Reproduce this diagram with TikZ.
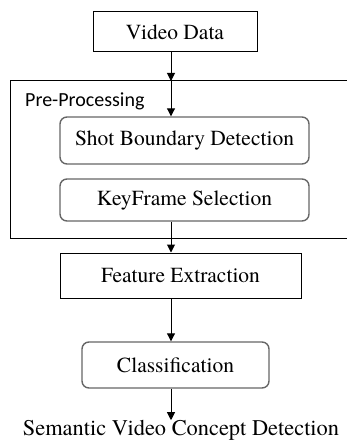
\documentclass[tikz,border=0pt]{standalone}
\usepackage{fontspec}
\setmainfont{TeX Gyre Termes}
\newfontfamily\calib{Carlito}
\usetikzlibrary{arrows.meta}
\begin{document}
\begin{tikzpicture}[x=1pt,y=-1pt,
  txt/.style={font=\fontsize{21.5}{24}\selectfont, inner sep=0pt},
  box/.style={txt, draw=black, line width=1pt},
  rbox/.style={txt, draw=black!60, line width=1.4pt, rounded corners=7pt},
  arr/.style={-{Triangle[length=8pt,width=8pt]}, line width=1pt}]
\useasboundingbox (0,0) rectangle (347,441);
\coordinate (ax) at (171,0);
% frame
\draw[line width=1pt] (349,81) -- (10,81) -- (10,238) -- (349,238);
\coordinate (ftop) at (171,81);
\node[anchor=west, inner sep=0pt, font=\calib\fontsize{20}{22}\selectfont] (pp) at (25,101) {Pre-Processing};
% nodes
\node[box, minimum width=164pt, minimum height=40pt] (vd) at (175,32) {Video Data};
\node[rbox, minimum width=249pt, minimum height=47pt] (sb) at (184.5,140.5) {Shot Boundary Detection};
\node[rbox, minimum width=249pt, minimum height=42pt] (kf) at (184.5,200) {KeyFrame Selection};
\node[box, minimum width=241pt, minimum height=45pt] (fe) at (180.5,275.5) {Feature Extraction};
\node[rbox, minimum width=187pt, minimum height=46pt] (cl) at (175.5,365) {Classification};
\node[txt, font=\fontsize{22.4}{24}\selectfont] (sv) at (181,430.5) {Semantic Video Concept Detection};
% arrows
\draw[arr] (vd.south -| ax) -- (ftop);
\draw[arr] (ftop) -- (sb.north -| ax);
\draw[arr] (kf.south -| ax) -- (fe.north -| ax);
\draw[arr] (fe.south -| ax) -- (cl.north -| ax);
\draw[arr] (cl.south -| ax) -- (sv.north -| ax);
\end{tikzpicture}
\end{document}
